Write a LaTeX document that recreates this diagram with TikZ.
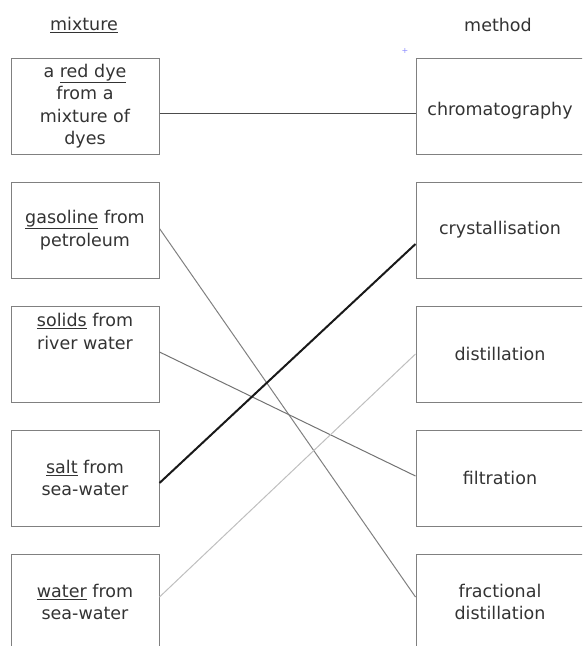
\documentclass[tikz,border=0pt]{standalone}
\usepackage{fontspec}
\setmainfont{DejaVu Sans}
\usetikzlibrary{positioning}

\tikzset{
  cell/.style={draw=black!50, line width=1pt, minimum height=96pt, align=center, text=black!80, inner sep=0pt},
  mixbox/.style={cell, minimum width=148pt},
  methbox/.style={cell, minimum width=168pt},
  link/.style={line width=1pt}
}

\begin{document}
\begin{tikzpicture}[x=1pt,y=-1pt,font=\fontsize{17.5}{22.5}\selectfont]
        \useasboundingbox (0,0) rectangle (582,646);
        \clip (0,0) rectangle (582,646);

        % Column headings
        \node[text=black!80] (mixhead) at (84,25) {\underline{mixture}};
        \node[text=black!80] (methhead) at (498,25) {method};
        \node[text=blue!45, font=\footnotesize] (mark) at (405,51) {+};

        % Draw the mixture boxes
        \node[mixbox] (dye) at (85,106) {a \underline{red dye}\\from a\\mixture of\\dyes};
        \node[mixbox, below=27pt of dye] (gasoline) {\underline{gasoline} from\\petroleum};
        \node[mixbox, below=27pt of gasoline] (solids) {\underline{solids} from\\river water\\~\\~};
        \node[mixbox, below=27pt of solids] (salt) {\underline{salt} from\\sea-water};
        \node[mixbox, below=27pt of salt] (water) {\underline{water} from\\sea-water};

        % Draw the method boxes
        \node[methbox] (chrom) at (500,106) {~\\chromatography};
        \node[methbox, below=27pt of chrom] (cryst) {crystallisation};
        \node[methbox, below=27pt of cryst] (distill) {distillation};
        \node[methbox, below=27pt of distill] (filtr) {filtration};
        \node[methbox, below=27pt of filtr] (fracdist) {fractional\\distillation};

        % Draw the matching lines
        \draw[link, black!70] ([yshift=-7pt]dye.east) -- ([yshift=-7pt]chrom.west);
        \draw[link, black!50] ([yshift=1.5pt]gasoline.east) -- ([yshift=5pt]fracdist.west);
        \draw[link, black!55] ([yshift=2pt]solids.east) -- ([yshift=2pt]filtr.west);
        \draw[link, black!25] ([yshift=5pt]water.east) -- (distill.west);
        \draw[line width=2pt, black!90] ([yshift=-5pt]salt.east) -- ([yshift=-14pt]cryst.west);
    \end{tikzpicture}
\end{document}
